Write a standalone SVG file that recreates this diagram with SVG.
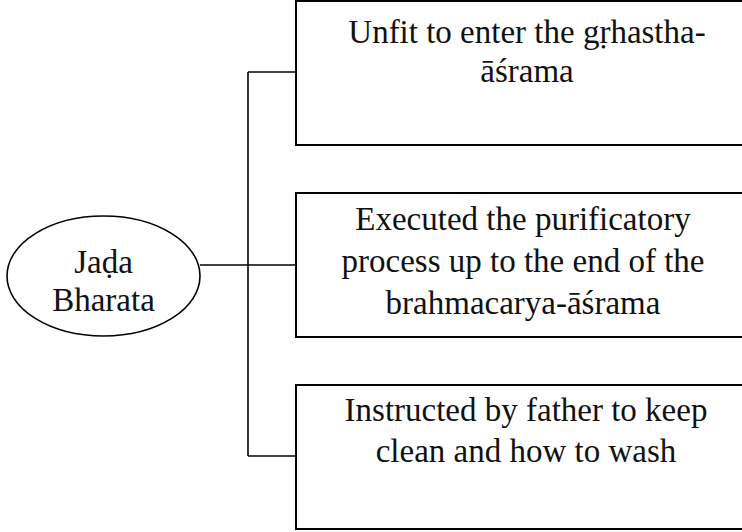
<svg xmlns="http://www.w3.org/2000/svg" width="742" height="532" viewBox="0 0 742 532">
  <style>
    .box { fill: #ffffff; stroke: #000000; stroke-width: 2; }
    .oval { fill: #ffffff; stroke: #000000; stroke-width: 1.6; }
    .wire { fill: none; stroke: #000000; stroke-width: 1.6; }
    .label { font-family: "Liberation Serif", "DejaVu Serif", serif; font-size: 33px; fill: #111111; text-anchor: middle; }
  </style>
  <rect width="742" height="532" fill="#ffffff"/>

  <!-- connectors: root to the bracket, bracket to each box -->
  <g id="connectors">
    <path class="wire" d="M200 265 H296"/>
    <path class="wire" d="M248 72 V456"/>
    <path class="wire" d="M248 72 H296"/>
    <path class="wire" d="M248 456 H296"/>
  </g>

  <g id="root">
    <ellipse class="oval" cx="103.5" cy="276" rx="96.5" ry="60"/>
    <text class="label" x="103.5" y="273">Jaḍa</text>
    <text class="label" x="103.5" y="311">Bharata</text>
  </g>

  <g id="unfit">
    <rect class="box" x="296" y="1" width="470" height="144"/>
    <text class="label" x="527" y="43">Unfit to enter the gṛhastha-</text>
    <text class="label" x="527" y="82">āśrama</text>
  </g>

  <g id="purification">
    <rect class="box" x="296" y="193" width="470" height="144"/>
    <text class="label" x="523" y="230">Executed the purificatory</text>
    <text class="label" x="523" y="272">process up to the end of the</text>
    <text class="label" x="523" y="314">brahmacarya-āśrama</text>
  </g>

  <g id="instruction">
    <rect class="box" x="296" y="385" width="470" height="144"/>
    <text class="label" x="526" y="421">Instructed by father to keep</text>
    <text class="label" x="526" y="462">clean and how to wash</text>
  </g>
</svg>
